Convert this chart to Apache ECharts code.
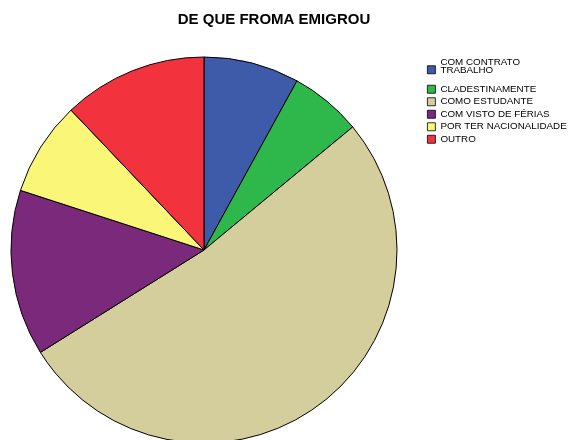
<!DOCTYPE html>
<html><head><meta charset="utf-8">
<script src="https://cdn.jsdelivr.net/npm/echarts@6/dist/echarts.min.js"></script>
<style>html,body{margin:0;padding:0;background:#fff}#c{width:568px;height:440px}</style>
</head><body><div id="c"></div>
<script>
var categories = ["COM CONTRATO\nTRABALHO", "CLADESTINAMENTE", "COMO ESTUDANTE", "COM VISTO DE FÉRIAS", "POR TER NACIONALIDADE", "OUTRO"];
var values = [8.0, 6.0, 52.1, 13.9, 7.9, 12.1];
var colors = ["#3E5BAA", "#2EB84B", "#D3CE9B", "#7B2A7B", "#FAF778", "#F2323C"];
var title = "DE QUE FROMA EMIGROU";

var chart = echarts.init(document.getElementById('c'), null, {renderer: 'canvas'});
chart.setOption({
  animation: false,
  backgroundColor: '#fff',
  title: {
    text: title, left: 274, top: 12, textAlign: 'center', padding: 0,
    textStyle: {fontFamily: 'Liberation Sans', fontSize: 15, fontWeight: 'bold', color: '#000'}
  },
  legend: {
    orient: 'vertical', left: 427, top: 57, padding: 0,
    itemWidth: 8, itemHeight: 8, itemGap: 2.5,
    icon: 'rect',
    itemStyle: {borderColor: '#000', borderWidth: 0.8},
    formatter: function (n) { return n === categories[0] ? '{a|' + n.split('\n').join('}\n{a|') + '}\n{s|}' : n; },
    textStyle: {fontFamily: 'Liberation Sans', fontSize: 9.8, color: '#000', lineHeight: 8.5,
      rich: {a: {fontFamily: 'Liberation Sans', fontSize: 9.8, color: '#000', lineHeight: 8.5}, s: {lineHeight: 7, fontSize: 7}}},
    data: categories
  },
  series: [{
    type: 'pie',
    center: [204, 250],
    radius: 193,
    startAngle: 90,
    clockwise: true,
    label: {show: false},
    labelLine: {show: false},
    emphasis: {disabled: true},
    itemStyle: {borderColor: '#000', borderWidth: 1},
    data: categories.map(function (c, i) { return {name: c, value: values[i], itemStyle: {color: colors[i]}}; })
  }]
});
</script></body></html>
